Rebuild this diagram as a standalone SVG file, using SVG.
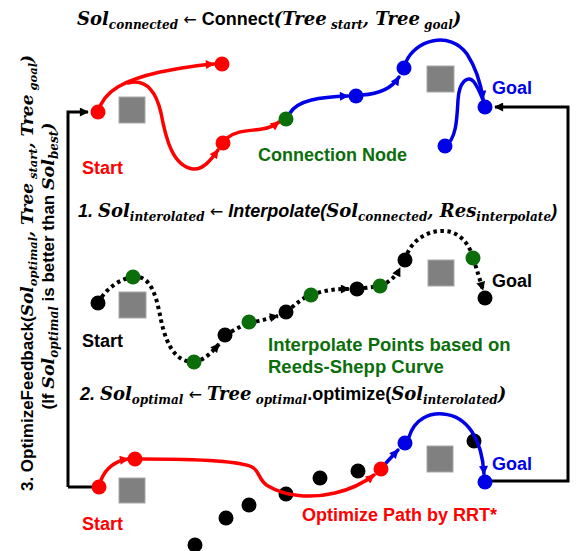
<svg xmlns="http://www.w3.org/2000/svg" width="576" height="551" viewBox="0 0 576 551">
  <style>
    .m { font-family: "DejaVu Serif", "Liberation Serif", serif; font-weight: bold; font-style: italic; font-size: 18px; }
    .s { font-size: 12px; }
    .sb { font-family: "Liberation Sans", Arial, sans-serif; font-weight: bold; font-size: 18px; }
    .sbi { font-family: "Liberation Sans", Arial, sans-serif; font-weight: bold; font-style: italic; font-size: 18px; }
    .ar { font-family: "DejaVu Sans", sans-serif; font-size: 16px; }
    .lbl { font-family: "Liberation Sans", Arial, sans-serif; font-weight: bold; font-size: 18px; }
    .side .sb { font-size: 17px; }
    .side .m { font-size: 17px; }
    .side .s { font-size: 11.5px; }
    .side2 .sb { font-size: 17px; }
    .side2 .m { font-size: 17.5px; }
    .side2 .s { font-size: 12px; }
    .red { fill: #ff0000; }
    .blue { fill: #0000e6; }
    .green { fill: #0b6e0b; }
    .blk { fill: #000000; }
    .obs { fill: #808080; stroke: #a8a8a8; stroke-width: 1; }
    .frame { fill: none; stroke: #000; stroke-width: 3; }
    .pr { fill: none; stroke: #ff0000; stroke-width: 3.5; stroke-linecap: round; }
    .pb { fill: none; stroke: #0000e6; stroke-width: 3.5; stroke-linecap: round; }
    .pd { fill: none; stroke: #000; stroke-width: 4; stroke-dasharray: 3.5 3.5; }
  </style>
  <defs>
    <marker id="ahR" viewBox="0 0 10 10" refX="9" refY="5" markerWidth="10" markerHeight="9" orient="auto" markerUnits="userSpaceOnUse"><path d="M0,0 L10,5 L0,10 z" fill="#ff0000"/></marker>
    <marker id="ahB" viewBox="0 0 10 10" refX="9" refY="5" markerWidth="10" markerHeight="9" orient="auto" markerUnits="userSpaceOnUse"><path d="M0,0 L10,5 L0,10 z" fill="#0000e6"/></marker>
    <marker id="ahK" viewBox="0 0 10 10" refX="9" refY="5" markerWidth="10" markerHeight="9" orient="auto" markerUnits="userSpaceOnUse"><path d="M0,0 L10,5 L0,10 z" fill="#000"/></marker>
  </defs>

  <!-- headings -->
  <g id="title-connect">
    <text x="77" y="25"><tspan class="m">Sol</tspan><tspan class="m s" dy="4">connected</tspan><tspan class="ar" dy="-4"> ← </tspan><tspan class="sb">Connect</tspan><tspan class="m">(Tree</tspan><tspan class="m s" dy="4"> start</tspan><tspan class="m" dy="-4">, Tree</tspan><tspan class="m s" dy="4"> goal</tspan><tspan class="m" dy="-4">)</tspan></text>
  </g>
  <g id="title-interpolate">
    <text x="78" y="217"><tspan class="sbi">1. </tspan><tspan class="m">Sol</tspan><tspan class="m s" dy="4">interolated</tspan><tspan class="ar" dy="-4"> ← </tspan><tspan class="sbi">Interpolate(</tspan><tspan class="m">Sol</tspan><tspan class="m s" dy="4">connected</tspan><tspan class="m" dy="-4">, Res</tspan><tspan class="m s" dy="4">interpolate</tspan><tspan class="sbi" dy="-4">)</tspan></text>
  </g>
  <g id="title-optimize">
    <text x="80" y="400"><tspan class="sbi">2. </tspan><tspan class="m">Sol</tspan><tspan class="m s" dy="4">optimal</tspan><tspan class="ar" dy="-4"> ← </tspan><tspan class="m">Tree</tspan><tspan class="m s" dy="4"> optimal</tspan><tspan class="sb" dy="-4">.optimize(</tspan><tspan class="m">Sol</tspan><tspan class="m s" dy="4">interolated</tspan><tspan class="m" dy="-4">)</tspan></text>
  </g>
  <g id="title-feedback">
    <text class="side" transform="translate(33,273) rotate(-90)" text-anchor="middle"><tspan class="sb">3. OptimizeFeedback(</tspan><tspan class="m">Sol</tspan><tspan class="m s" dy="4">optimal</tspan><tspan class="m" dy="-4">, Tree</tspan><tspan class="m s" dy="4"> start</tspan><tspan class="m" dy="-4">, Tree</tspan><tspan class="m s" dy="4"> goal</tspan><tspan class="m" dy="-4">)</tspan></text>
    <text class="side2" transform="translate(54,266) rotate(-90)" text-anchor="middle"><tspan class="sb">(If </tspan><tspan class="m">Sol</tspan><tspan class="m s" dy="4">optimal</tspan><tspan class="sb" dy="-4"> is better than </tspan><tspan class="m">Sol</tspan><tspan class="m s" dy="4">best</tspan><tspan class="m" dy="-4">)</tspan></text>
  </g>

  <!-- obstacles -->
  <g id="obstacles">
    <rect class="obs" x="119" y="97" width="26" height="26"/>
    <rect class="obs" x="427" y="66" width="27" height="26"/>
    <rect class="obs" x="119" y="292" width="27" height="26"/>
    <rect class="obs" x="428" y="260" width="26" height="26"/>
    <rect class="obs" x="119" y="478" width="26" height="25"/>
    <rect class="obs" x="427" y="446" width="26" height="26"/>
  </g>

  <!-- leftover interpolated points under the optimized path -->
  <g id="leftover-points" class="blk">
    <circle cx="195" cy="545" r="7.5"/>
    <circle cx="226" cy="518" r="7.5"/>
    <circle cx="249" cy="505" r="7.5"/>
    <circle cx="286" cy="494" r="7.5"/>
    <circle cx="320" cy="478" r="7.5"/>
    <circle cx="358" cy="471" r="7.5"/>
    <circle cx="474" cy="441" r="7.5"/>
  </g>

  <g id="connectors">
    <!-- feedback frame -->
    <path class="frame" d="M68,487 L68,112 L88,112" marker-end="url(#ahK)"/>
    <path class="frame" d="M92,487 L68,487"/>
    <path class="frame" d="M485,481 L568,481 L568,107 L495,107" marker-end="url(#ahK)"/>

    <!-- start tree -->
    <path class="pr" d="M98,112 C104,90 125,80 160,72 C180,68 198,65 214,64" marker-end="url(#ahR)"/>
    <path class="pr" d="M128,83 C148,78 157,95 161,113 C166,140 173,166 193,169 C203,170 211,160 218,150" marker-end="url(#ahR)"/>
    <path class="pr" d="M227,138 C237,130 250,131 262,129 C270,128 275,125 279,122" marker-end="url(#ahR)"/>

    <!-- goal tree -->
    <path class="pb" d="M290,113 C298,100 320,97 348,96" marker-end="url(#ahB)"/>
    <path class="pb" d="M362,95 C380,94 392,88 399,77" marker-end="url(#ahB)"/>
    <path class="pb" d="M406,62 C415,40 450,30 467,54 C476,68 481,85 483,99" marker-end="url(#ahB)"/>
    <path class="pb" d="M445,146 C456,140 457,120 458,100 C459,82 468,74 474,82 C479,89 481,95 483,100"/>

    <!-- interpolated path -->
    <path class="pd" d="M98,303 C106,288 120,279 133,277"/>
    <path class="pd" d="M133,277 C152,274 157,300 161,320 C167,348 177,362 194,362"/>
    <path class="pd" d="M194,362 C205,360 212,352 219,344" marker-end="url(#ahK)"/>
    <path class="pd" d="M225,335 L249,322"/>
    <path class="pd" d="M249,322 C260,322 268,318 278,316" marker-end="url(#ahK)"/>
    <path class="pd" d="M286,312 C295,305 302,298 311,295"/>
    <path class="pd" d="M311,295 C325,290 335,289 349,289" marker-end="url(#ahK)"/>
    <path class="pd" d="M357,289 L380,286"/>
    <path class="pd" d="M380,286 C390,282 396,276 400,268" marker-end="url(#ahK)"/>
    <path class="pd" d="M405,260 C410,240 428,230 445,231 C460,232 470,245 473,258"/>
    <path class="pd" d="M473,258 C477,270 480,280 483,290" marker-end="url(#ahK)"/>

    <!-- optimized path -->
    <path class="pr" d="M101,480 C106,468 115,461 128,459" marker-end="url(#ahR)"/>
    <path class="pr" d="M142,459 C190,459 240,461 252,467 C260,471 258,480 268,486 C285,496 310,499 335,493 C352,489 365,482 374,475" marker-end="url(#ahR)"/>
    <path class="pb" d="M386,463 L398,450" marker-end="url(#ahB)"/>
    <path class="pb" d="M409,437 C415,418 430,413 443,414 C468,416 482,440 484,474" marker-end="url(#ahB)"/>
  </g>

  <!-- connect stage nodes -->
  <g id="n-start-1" class="red"><circle cx="98" cy="112" r="7.5"/><text class="lbl" x="82" y="174">Start</text></g>
  <g id="n-red-a" class="red"><circle cx="222" cy="64" r="7.5"/></g>
  <g id="n-red-b" class="red"><circle cx="223" cy="143" r="7.5"/></g>
  <g id="n-connection" class="green"><circle cx="286" cy="119" r="7.5"/><text class="lbl" x="258" y="161">Connection Node</text></g>
  <g id="n-blue-a" class="blue"><circle cx="356" cy="96" r="7.5"/></g>
  <g id="n-blue-b" class="blue"><circle cx="404" cy="68" r="7.5"/></g>
  <g id="n-blue-c" class="blue"><circle cx="445" cy="146" r="7.5"/></g>
  <g id="n-goal-1" class="blue"><circle cx="485" cy="107" r="7.5"/><text class="lbl" x="492" y="94">Goal</text></g>

  <!-- interpolate stage nodes -->
  <g id="n-start-2" class="blk"><circle cx="98" cy="303" r="7.5"/><text class="lbl" x="82" y="347">Start</text></g>
  <g id="n-i1" class="green"><circle cx="133" cy="277" r="7.5"/></g>
  <g id="n-i2" class="green"><circle cx="194" cy="362" r="7.5"/></g>
  <g id="n-i3" class="blk"><circle cx="225" cy="335" r="7.5"/></g>
  <g id="n-i4" class="green"><circle cx="249" cy="322" r="7.5"/></g>
  <g id="n-i5" class="blk"><circle cx="286" cy="312" r="7.5"/></g>
  <g id="n-i6" class="green"><circle cx="311" cy="295" r="7.5"/></g>
  <g id="n-i7" class="blk"><circle cx="357" cy="289" r="7.5"/></g>
  <g id="n-i8" class="green"><circle cx="380" cy="286" r="7.5"/></g>
  <g id="n-i9" class="blk"><circle cx="405" cy="260" r="7.5"/></g>
  <g id="n-i10" class="green"><circle cx="473" cy="258" r="7.5"/></g>
  <g id="n-goal-2" class="blk"><circle cx="485" cy="298" r="7.5"/><text class="lbl" x="492" y="287">Goal</text></g>
  <g id="note-interp" class="green"><text class="lbl" x="268" y="351" style="font-size:18.5px">Interpolate Points based on</text><text class="lbl" x="268" y="373" style="font-size:18.5px">Reeds-Shepp Curve</text></g>

  <!-- optimize stage nodes -->
  <g id="n-start-3" class="red"><circle cx="99" cy="487" r="7.5"/><text class="lbl" x="82" y="530">Start</text></g>
  <g id="n-o1" class="red"><circle cx="135" cy="459" r="7.5"/></g>
  <g id="n-o2" class="red"><circle cx="381" cy="469" r="7.5"/></g>
  <g id="n-o3" class="blue"><circle cx="405" cy="443" r="7.5"/></g>
  <g id="n-goal-3" class="blue"><circle cx="485" cy="482" r="7.5"/><text class="lbl" x="492" y="470">Goal</text></g>
  <g id="note-rrt" class="red"><text class="lbl" x="302" y="521">Optimize Path by RRT*</text></g>
</svg>
